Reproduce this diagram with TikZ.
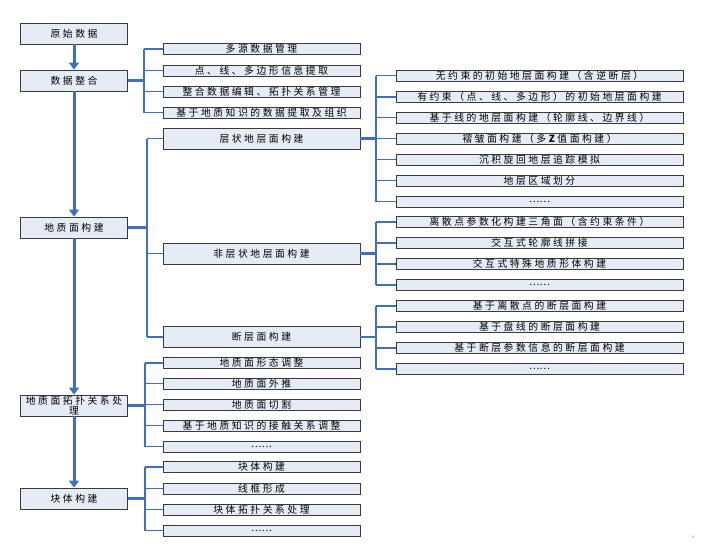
\documentclass[tikz,border=0pt]{standalone}
\usepackage{fontspec}
\setmainfont{Noto Sans CJK SC}
\usetikzlibrary{arrows.meta}
\definecolor{lineblue}{HTML}{3F6FC2}
\definecolor{boxfill}{HTML}{E6ECF6}
\definecolor{boxline}{HTML}{3A3A3A}

\begin{document}
\begin{tikzpicture}[x=1pt,y=-1pt,
    box/.style={draw=boxline,fill=boxfill,line width=0.9pt,inner sep=0pt,
        font=\fontsize{9.8}{10.6}\selectfont\addfontfeatures{LetterSpace=26},align=center},
    mainbox/.style={box,minimum width=107pt,minimum height=21pt},
    midbox/.style={box,minimum width=197pt,minimum height=21pt},
    subbox/.style={box,minimum width=197pt,minimum height=11pt},
    rightbox/.style={box,minimum width=287pt,minimum height=11pt},
    dots/.style={font=\fontsize{9.8}{10.6}\selectfont},
    flow/.style={draw=lineblue,line width=3pt,-{Triangle[length=7pt,width=10pt]}},
    trunk/.style={draw=lineblue,line width=2.6pt},
    branch/.style={draw=lineblue,line width=1.8pt}]
                \useasboundingbox (0,0) rectangle (716,547);

                \node[mainbox] (yssj) at (74,33.5) {原始数据};
                \node[mainbox] (sjzh) at (74,80.5) {数据整合};
                \node[mainbox] (dzmgj) at (74,227.5) {地质面构建};
                \node[mainbox] (tpcl) at (74,405.5) {地质面拓扑关系处\\理};
                \node[mainbox] (ktgj) at (74,498.5) {块体构建};

                \draw[flow] (yssj.south) -- (sjzh.north);
                \draw[flow] (sjzh.south) -- (dzmgj.north);
                \draw[flow] (dzmgj.south) -- (tpcl.north);
                \draw[flow] (tpcl.south) -- (ktgj.north);

                \node[subbox] (zh1) at (261.5,49) {多源数据管理};
                \node[subbox] (zh2) at (261.5,70.5) {点、线、多边形信息提取};
                \node[subbox] (zh3) at (261.5,91.5) {整合数据编辑、拓扑关系管理};
                \node[subbox] (zh4) at (261.5,112.5) {基于地质知识的数据提取及组织};

                \node[midbox] (czgj) at (261.5,138.5) {层状地层面构建};
                \node[midbox] (fczgj) at (261.5,253.5) {非层状地层面构建};
                \node[midbox] (dcgj) at (261.5,337) {断层面构建};

                \node[subbox] (tp1) at (261.5,363) {地质面形态调整};
                \node[subbox] (tp2) at (261.5,383.5) {地质面外推};
                \node[subbox] (tp3) at (261.5,404.5) {地质面切割};
                \node[subbox] (tp4) at (261.5,425.5) {基于地质知识的接触关系调整};
                \node[subbox,dots] (tp5) at (261.5,446.5) {……};

                \node[subbox] (kt1) at (261.5,467) {块体构建};
                \node[subbox] (kt2) at (261.5,488.5) {线框形成};
                \node[subbox] (kt3) at (261.5,509.5) {块体拓扑关系处理};
                \node[subbox,dots] (kt4) at (261.5,530.5) {……};

                \node[rightbox] (cz1) at (539.5,75.5) {无约束的初始地层面构建（含逆断层）};
                \node[rightbox] (cz2) at (539.5,97) {有约束（点、线、多边形）的初始地层面构建};
                \node[rightbox] (cz3) at (539.5,117.5) {基于线的地层面构建（轮廓线、边界线）};
                \node[rightbox] (cz4) at (539.5,138.5) {褶皱面构建（多\textbf{Z}值面构建）};
                \node[rightbox] (cz5) at (539.5,159.5) {沉积旋回地层追踪模拟};
                \node[rightbox] (cz6) at (539.5,180.5) {地层区域划分};
                \node[rightbox,dots] (cz7) at (539.5,201.5) {……};

                \node[rightbox] (fc1) at (539.5,222) {离散点参数化构建三角面（含约束条件）};
                \node[rightbox] (fc2) at (539.5,243) {交互式轮廓线拼接};
                \node[rightbox] (fc3) at (539.5,264) {交互式特殊地质形体构建};
                \node[rightbox,dots] (fc4) at (539.5,285) {……};

                \node[rightbox] (dc1) at (539.5,306) {基于离散点的断层面构建};
                \node[rightbox] (dc2) at (539.5,327) {基于盘线的断层面构建};
                \node[rightbox] (dc3) at (539.5,348) {基于断层参数信息的断层面构建};
                \node[rightbox,dots] (dc4) at (539.5,369) {……};

                \coordinate (bzh) at (144,80.5);
                \coordinate (bdz) at (147,227.5);
                \coordinate (btp) at (145,405.5);
                \coordinate (bkt) at (145,498.5);
                \coordinate (bcz) at (376,138.5);
                \coordinate (bfc) at (376,253.5);
                \coordinate (bdc) at (376,337);

                \draw[trunk] (sjzh.east) -- (bzh);
                \draw[trunk] (zh1.west -| bzh) -- (zh4.west -| bzh);
                \draw[branch] (bzh |- zh1.west) -- (zh1.west);
                \draw[branch] (bzh |- zh2.west) -- (zh2.west);
                \draw[branch] (bzh |- zh3.west) -- (zh3.west);
                \draw[branch] (bzh |- zh4.west) -- (zh4.west);

                \draw[trunk] (dzmgj.east) -- (bdz);
                \draw[trunk] (czgj.west -| bdz) -- (dcgj.west -| bdz);
                \draw[branch] (bdz |- czgj.west) -- (czgj.west);
                \draw[branch] (bdz |- fczgj.west) -- (fczgj.west);
                \draw[branch] (bdz |- dcgj.west) -- (dcgj.west);

                \draw[trunk] (tpcl.east) -- (btp);
                \draw[trunk] (tp1.west -| btp) -- (tp5.west -| btp);
                \draw[branch] (btp |- tp1.west) -- (tp1.west);
                \draw[branch] (btp |- tp2.west) -- (tp2.west);
                \draw[branch] (btp |- tp3.west) -- (tp3.west);
                \draw[branch] (btp |- tp4.west) -- (tp4.west);
                \draw[branch] (btp |- tp5.west) -- (tp5.west);

                \draw[trunk] (ktgj.east) -- (bkt);
                \draw[trunk] (kt1.west -| bkt) -- (kt4.west -| bkt);
                \draw[branch] (bkt |- kt1.west) -- (kt1.west);
                \draw[branch] (bkt |- kt2.west) -- (kt2.west);
                \draw[branch] (bkt |- kt3.west) -- (kt3.west);
                \draw[branch] (bkt |- kt4.west) -- (kt4.west);

                \draw[trunk] (czgj.east) -- (bcz);
                \draw[trunk] (cz1.west -| bcz) -- (cz7.west -| bcz);
                \draw[branch] (bcz |- cz1.west) -- (cz1.west);
                \draw[branch] (bcz |- cz2.west) -- (cz2.west);
                \draw[branch] (bcz |- cz3.west) -- (cz3.west);
                \draw[branch] (bcz |- cz4.west) -- (cz4.west);
                \draw[branch] (bcz |- cz5.west) -- (cz5.west);
                \draw[branch] (bcz |- cz6.west) -- (cz6.west);
                \draw[branch] (bcz |- cz7.west) -- (cz7.west);

                \draw[trunk] (fczgj.east) -- (bfc);
                \draw[trunk] (fc1.west -| bfc) -- (fc4.west -| bfc);
                \draw[branch] (bfc |- fc1.west) -- (fc1.west);
                \draw[branch] (bfc |- fc2.west) -- (fc2.west);
                \draw[branch] (bfc |- fc3.west) -- (fc3.west);
                \draw[branch] (bfc |- fc4.west) -- (fc4.west);

                \draw[trunk] (dcgj.east) -- (bdc);
                \draw[trunk] (dc1.west -| bdc) -- (dc4.west -| bdc);
                \draw[branch] (bdc |- dc1.west) -- (dc1.west);
                \draw[branch] (bdc |- dc2.west) -- (dc2.west);
                \draw[branch] (bdc |- dc3.west) -- (dc3.west);
                \draw[branch] (bdc |- dc4.west) -- (dc4.west);

                \node[font=\fontsize{4}{4}\selectfont,text=gray] (pg) at (693,537) {4};
            \end{tikzpicture}
\end{document}
